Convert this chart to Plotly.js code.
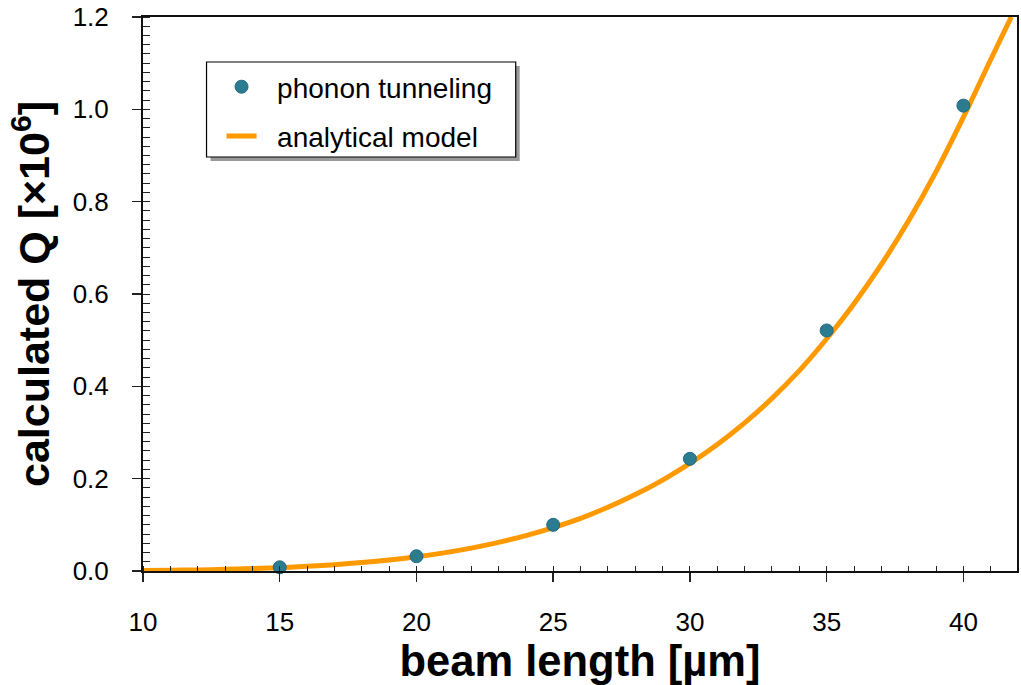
<!DOCTYPE html>
<html>
<head>
<meta charset="utf-8">
<script src="https://cdn.plot.ly/plotly-3.0.1.min.js"></script>
<style>html,body{margin:0;padding:0;background:#fff;}#chart{width:1021px;height:685px;}</style>
</head>
<body>
<div id="chart"></div>
<script>
// phonon tunneling (simulated points)
const tunnelL = [15, 20, 25, 30, 35, 40];
const tunnelQ = [0.008, 0.032, 0.100, 0.243, 0.521, 1.008];

// analytical model curve
const modelL = [10, 11, 12, 13, 14, 15, 16, 17, 18, 19, 20, 21, 22, 23, 24, 25, 26, 27, 28, 29, 30, 31, 32, 33, 34, 35, 36, 37, 38, 39, 40, 41, 41.75];
const modelQ = [0.001, 0.0016, 0.0024, 0.0036, 0.0052, 0.0073, 0.0101, 0.0137, 0.0182, 0.0238, 0.0308, 0.0393, 0.0496, 0.062, 0.0766, 0.094, 0.114, 0.138, 0.1655, 0.197, 0.233, 0.274, 0.321, 0.374, 0.434, 0.503, 0.579, 0.664, 0.759, 0.865, 0.983, 1.108, 1.200];

const xTickVals = [10, 15, 20, 25, 30, 35, 40];
const yTickVals = [0.0, 0.2, 0.4, 0.6, 0.8, 1.0, 1.2];
const yTickText = ['0.0', '0.2', '0.4', '0.6', '0.8', '1.0', '1.2'];

const NB = '\u00a0\u00a0';

const pointsTrace = {
  x: tunnelL, y: tunnelQ, type: 'scatter', mode: 'markers',
  name: NB + 'phonon tunneling', legendgroup: 'a', legendrank: 1,
  marker: {color: '#2b7b91', size: 13, line: {color: '#226a7e', width: 1}},
  cliponaxis: false
};
const modelTrace = {
  x: modelL, y: modelQ, type: 'scatter', mode: 'lines',
  name: NB + 'analytical model', legendgroup: 'b', legendrank: 2,
  line: {color: '#ff9900', width: 5, shape: 'spline', smoothing: 1},
  cliponaxis: false
};

const L = 143.5, R = 1017, T = 17, B = 571;
const px = v => (v - L) / (R - L);
const py = v => (B - v) / (B - T);

const layout = {
  width: 1021, height: 685,
  margin: {l: 143, r: 4, t: 17, b: 114, pad: 0},
  paper_bgcolor: '#fff', plot_bgcolor: '#fff',
  font: {family: '"Liberation Sans", Arial, sans-serif', color: '#000'},
  showlegend: true,
  legend: {
    x: px(222), y: py(62), xanchor: 'left', yanchor: 'top',
    bgcolor: 'rgba(0,0,0,0)', borderwidth: 0,
    font: {size: 28, color: '#000'},
    traceorder: 'grouped', tracegroupgap: 10
  },
  xaxis: {
    range: [10, 41.96], tickmode: 'array', tickvals: xTickVals,
    ticks: 'outside', ticklen: 9, tickwidth: 1.5, tickcolor: '#222',
    minor: {dtick: 1, ticks: 'inside', ticklen: 5, tickwidth: 1, tickcolor: '#222'},
    showline: true, linecolor: '#111', linewidth: 2, mirror: true,
    showgrid: false, zeroline: false,
    tickfont: {size: 26, color: '#000'}, ticklabelstandoff: 18,
    title: {text: '<b>beam length [µm]</b>', font: {size: 43.5, color: '#000'}, standoff: 4}
  },
  yaxis: {
    range: [0, 1.2], tickmode: 'array', tickvals: yTickVals, ticktext: yTickText,
    ticks: 'outside', ticklen: 9, tickwidth: 1.5, tickcolor: '#222',
    minor: {dtick: 0.02, ticks: 'inside', ticklen: 7, tickwidth: 1, tickcolor: '#222'},
    showline: true, linecolor: '#111', linewidth: 2, mirror: true,
    showgrid: false, zeroline: false,
    tickfont: {size: 26, color: '#000'}, ticklabelstandoff: 18,
    title: {text: '<b>calculated Q [×10<sup>6</sup>]</b>', font: {size: 43, color: '#000'}, standoff: 10}
  },
  shapes: [
    {type: 'rect', xref: 'paper', yref: 'paper', layer: 'above',
     x0: px(211), x1: px(520), y0: py(161), y1: py(66),
     fillcolor: '#9a9a9a', line: {width: 0}},
    {type: 'rect', xref: 'paper', yref: 'paper', layer: 'above',
     x0: px(207), x1: px(516), y0: py(157), y1: py(62),
     fillcolor: '#ffffff', line: {color: '#000', width: 1.2}}
  ]
};

Plotly.newPlot('chart', [modelTrace, pointsTrace], layout, {displayModeBar: false, staticPlot: true});
</script>
</body>
</html>
